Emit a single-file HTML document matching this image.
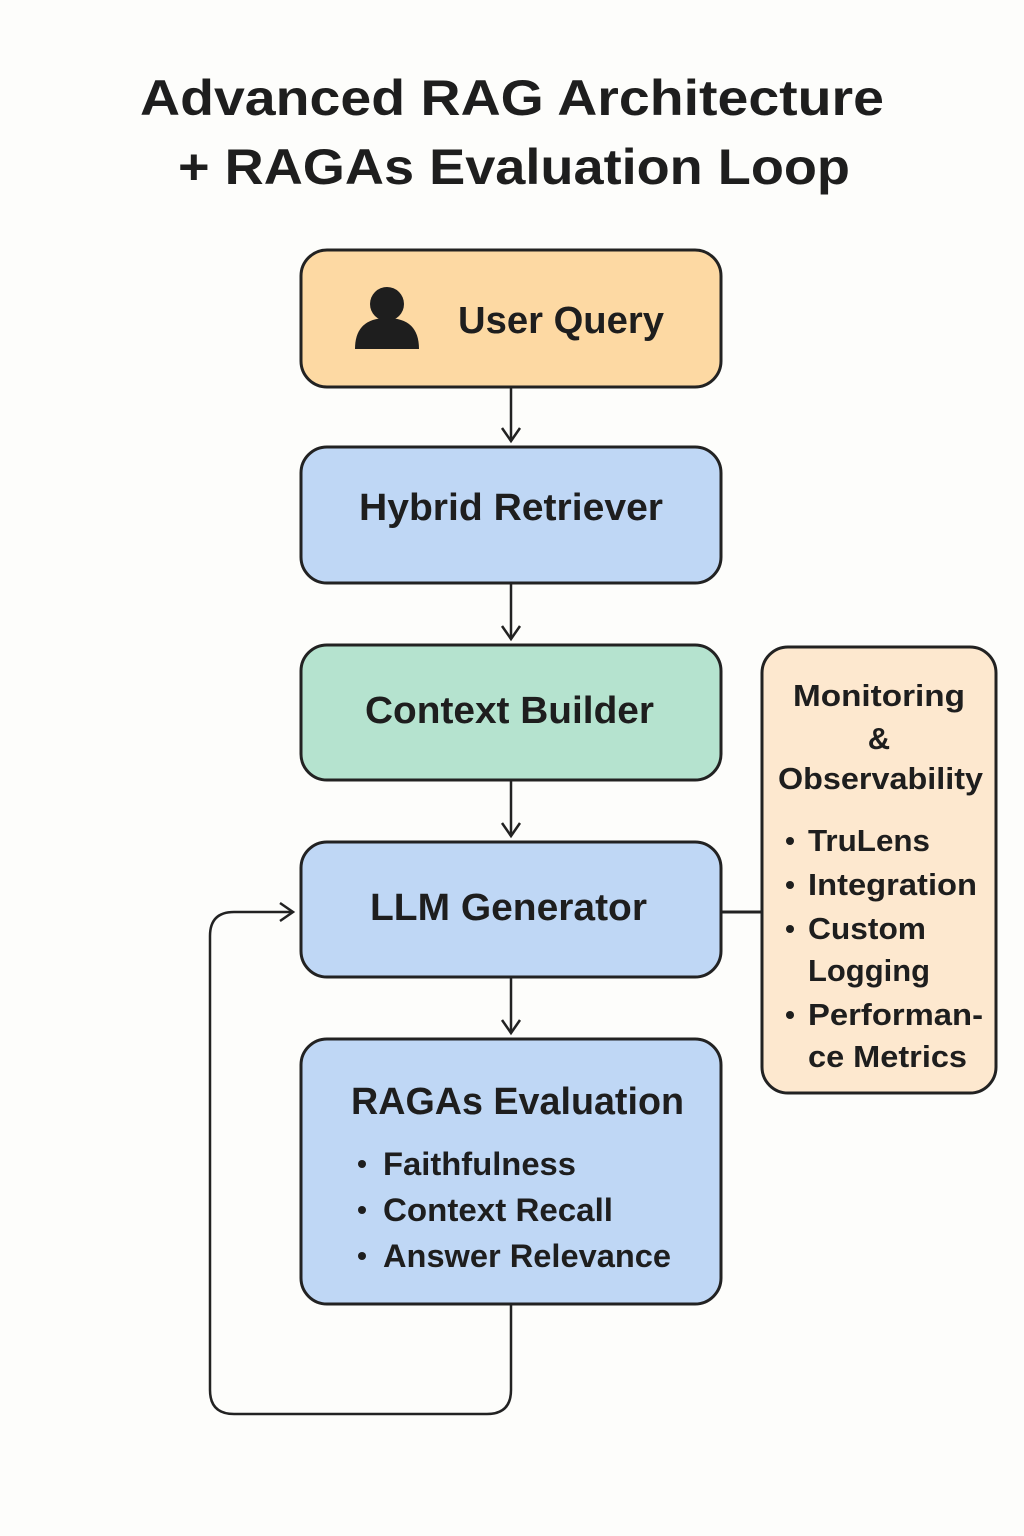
<!DOCTYPE html>
<html><head><meta charset="utf-8"><style>
html,body{margin:0;padding:0;background:#fdfdfb;}
svg{display:block}
text{font-family:"Liberation Sans",sans-serif;fill:#1e1e1e;font-weight:bold;}
</style></head><body>
<svg width="1024" height="1536" viewBox="0 0 1024 1536" xmlns="http://www.w3.org/2000/svg">
<rect width="1024" height="1536" fill="#fdfdfb"/>
<text x="140" y="115" font-size="50" textLength="744" lengthAdjust="spacingAndGlyphs">Advanced RAG Architecture</text>
<text x="178" y="184" font-size="50" textLength="672" lengthAdjust="spacingAndGlyphs">+ RAGAs Evaluation Loop</text>
<g stroke="#222" stroke-width="3">
<rect x="301" y="250" width="420" height="137" rx="26" fill="#fdd9a3"/>
<rect x="301" y="447" width="420" height="136" rx="26" fill="#bfd7f5"/>
<rect x="301" y="645" width="420" height="135" rx="26" fill="#b5e3cf"/>
<rect x="301" y="842" width="420" height="135" rx="26" fill="#bfd7f5"/>
<rect x="301" y="1039" width="420" height="265" rx="26" fill="#bfd7f5"/>
<rect x="762" y="647" width="234" height="446" rx="26" fill="#fde8cf"/>
</g>
<g stroke="#222" stroke-width="2.5" fill="none">
<line x1="511" y1="387" x2="511" y2="441"/><polyline points="502,428 511,441 520,428"/>
<line x1="511" y1="583" x2="511" y2="639"/><polyline points="502,626 511,639 520,626"/>
<line x1="511" y1="780" x2="511" y2="836"/><polyline points="502,823 511,836 520,823"/>
<line x1="511" y1="977" x2="511" y2="1033"/><polyline points="502,1020 511,1033 520,1020"/>
<line x1="721" y1="912" x2="762" y2="912" stroke-width="3"/>
<path d="M511 1304 V1390 Q511 1414 487 1414 H234 Q210 1414 210 1390 V936 Q210 912 234 912 H293"/>
<polyline points="280,903 293,912 280,921"/>
</g>
<circle cx="387" cy="304" r="17" fill="#1e1e1e"/>
<path d="M355 349 Q355 318 387 318 Q419 318 419 349 Z" fill="#1e1e1e"/>
<g font-size="38">
<text x="458" y="333" textLength="206" lengthAdjust="spacingAndGlyphs">User Query</text>
<text x="359" y="520" textLength="304" lengthAdjust="spacingAndGlyphs">Hybrid Retriever</text>
<text x="365" y="723" textLength="289" lengthAdjust="spacingAndGlyphs">Context Builder</text>
<text x="370" y="920" textLength="277" lengthAdjust="spacingAndGlyphs">LLM Generator</text>
<text x="351" y="1114" textLength="333" lengthAdjust="spacingAndGlyphs">RAGAs Evaluation</text>
</g>
<g font-size="32">
<circle cx="362" cy="1164" r="4" fill="#1e1e1e"/>
<circle cx="362" cy="1210" r="4" fill="#1e1e1e"/>
<circle cx="362" cy="1256" r="4" fill="#1e1e1e"/>
<text x="383" y="1175" textLength="193" lengthAdjust="spacingAndGlyphs">Faithfulness</text>
<text x="383" y="1221" textLength="230" lengthAdjust="spacingAndGlyphs">Context Recall</text>
<text x="383" y="1267" textLength="288" lengthAdjust="spacingAndGlyphs">Answer Relevance</text>
</g>
<g font-size="31">
<text x="793" y="706" textLength="172" lengthAdjust="spacingAndGlyphs">Monitoring</text>
<text x="879" y="749" text-anchor="middle">&amp;</text>
<text x="778" y="789" textLength="205" lengthAdjust="spacingAndGlyphs">Observability</text>
<circle cx="790" cy="841" r="4" fill="#1e1e1e"/>
<circle cx="790" cy="885" r="4" fill="#1e1e1e"/>
<circle cx="790" cy="929" r="4" fill="#1e1e1e"/>
<circle cx="790" cy="1015" r="4" fill="#1e1e1e"/>
<text x="808" y="851" textLength="122" lengthAdjust="spacingAndGlyphs">TruLens</text>
<text x="808" y="895" textLength="169" lengthAdjust="spacingAndGlyphs">Integration</text>
<text x="808" y="939" textLength="118" lengthAdjust="spacingAndGlyphs">Custom</text>
<text x="808" y="981" textLength="122" lengthAdjust="spacingAndGlyphs">Logging</text>
<text x="808" y="1025" textLength="175" lengthAdjust="spacingAndGlyphs">Performan-</text>
<text x="808" y="1067" textLength="159" lengthAdjust="spacingAndGlyphs">ce Metrics</text>
</g>
</svg>
</body></html>
